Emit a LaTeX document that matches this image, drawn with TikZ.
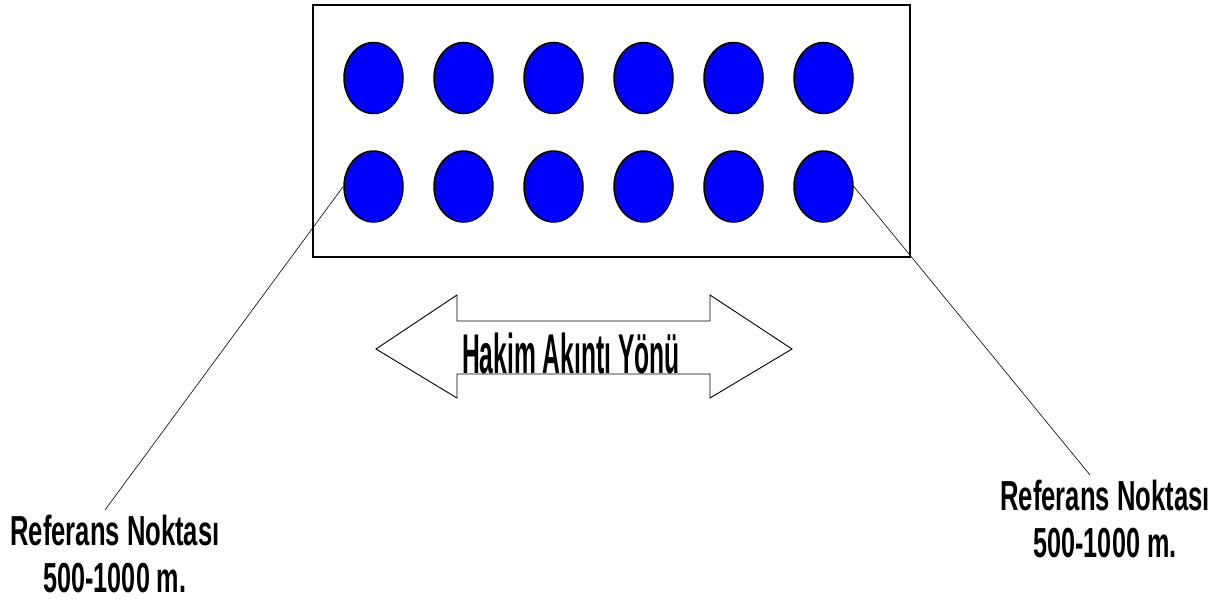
\documentclass[tikz,border=0pt]{standalone}
\usepackage{fontspec}
\setmainfont{Liberation Sans}
\usepackage{tikz}
\usetikzlibrary{shapes.geometric}
\definecolor{kuyumavi}{RGB}{0,0,255}
\tikzset{
  kuyu/.style={ellipse,draw=black,line width=1.5pt,fill=kuyumavi,minimum width=59pt,minimum height=71pt,inner sep=0pt},
  cerceve/.style={draw=black,line width=1.4pt},
  ince/.style={black,line width=0.6pt},
  ok/.style={draw=black,line width=0.9pt,line join=miter},
  etiket/.style={font=\fontsize{42}{47}\selectfont\bfseries,align=center,inner sep=0pt}
}
\newcommand{\dar}[2]{\scalebox{#1}[1]{#2}}

\begin{document}
\begin{tikzpicture}[x=1pt,y=-1pt]
\useasboundingbox (0,0) rectangle (1222,602);
% kuyu alani
\draw[cerceve] (313,5) rectangle (910,257);
\foreach \i in {1,...,6}
  \foreach \j/\yy in {1/78,2/186.5}
    \node[kuyu] (k\j\i) at ({373.5+90*(\i-1)},\yy) {};
% akinti yonu oku
\draw[ok] (376,349)--(457,295)--(457,321)--(710,321)--(710,295)--(792,349)--(710,398)--(710,374)--(457,374)--(457,398)--cycle;
\node[inner sep=0pt,anchor=base,font=\fontsize{56}{60}\selectfont\bfseries] (yon) at (571,373) {\dar{0.44}{Hakim Akıntı Yönü}};
% referans noktalari
\node[etiket,anchor=north] (refsol) at (115,515) {\dar{0.61}{Referans Noktası}\\\dar{0.60}{500-1000 m.}};
\node[etiket,anchor=north] (refsag) at (1105,480) {\dar{0.61}{Referans Noktası}\\\dar{0.60}{500-1000 m.}};
\coordinate (uclsol) at (105,510);
\coordinate (uclsag) at (1090,475);
\draw[ince] (k21.west) -- (uclsol);
\draw[ince] (k26.east) -- (uclsag);
\end{tikzpicture}
\end{document}
